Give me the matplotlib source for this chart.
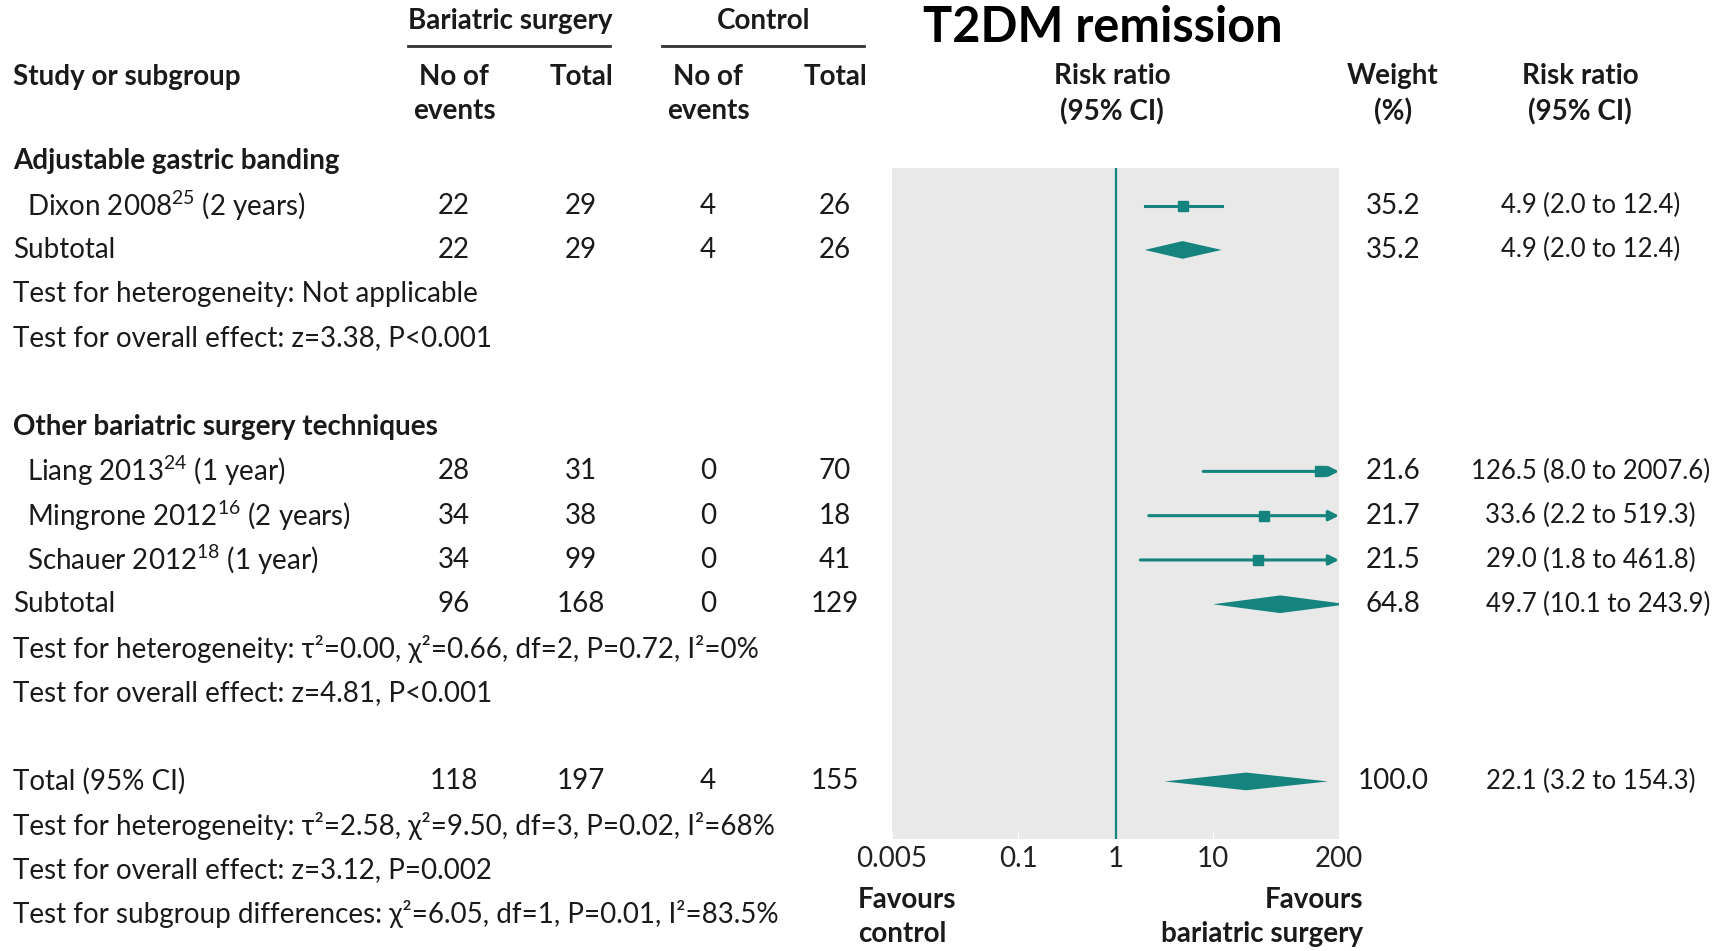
import numpy as np
import matplotlib
matplotlib.use('Agg')
import matplotlib.pyplot as plt
from matplotlib import transforms

plt.rcParams['font.family'] = ['Lato', 'DejaVu Sans']
plt.rcParams['mathtext.fontset'] = 'custom'
plt.rcParams['mathtext.rm'] = 'Lato'
plt.rcParams['mathtext.it'] = 'Lato:italic'
plt.rcParams['mathtext.bf'] = 'Lato:bold'

# rows of the table (top to bottom)
row_labels = ["Adjustable gastric banding",
              "Dixon 2008$^{25}$ (2 years)",
              "Subtotal",
              "Test for heterogeneity: Not applicable",
              "Test for overall effect: z=3.38, P<0.001",
              "",
              "Other bariatric surgery techniques",
              "Liang 2013$^{24}$ (1 year)",
              "Mingrone 2012$^{16}$ (2 years)",
              "Schauer 2012$^{18}$ (1 year)",
              "Subtotal",
              "Test for heterogeneity: τ²=0.00, χ²=0.66, df=2, P=0.72, I²=0%",
              "Test for overall effect: z=4.81, P<0.001",
              "",
              "Total (95% CI)",
              "Test for heterogeneity: τ²=2.58, χ²=9.50, df=3, P=0.02, I²=68%",
              "Test for overall effect: z=3.12, P=0.002",
              "Test for subgroup differences: χ²=6.05, df=1, P=0.01, I²=83.5%"]
bold_rows = [0, 6]
indent_rows = [1, 7, 8, 9]

# rows carrying numbers
data_rows = [1, 2, 7, 8, 9, 10, 14]
kind = ['study', 'pooled', 'study', 'study', 'study', 'pooled', 'pooled']
ev_bs = [22, 22, 28, 34, 34, 96, 118]
tot_bs = [29, 29, 31, 38, 99, 168, 197]
ev_ct = [4, 4, 0, 0, 0, 0, 4]
tot_ct = [26, 26, 70, 18, 41, 129, 155]
weight = [35.2, 35.2, 21.6, 21.7, 21.5, 64.8, 100.0]
rr = [4.9, 4.9, 126.5, 33.6, 29.0, 49.7, 22.1]
lo = [2.0, 2.0, 8.0, 2.2, 1.8, 10.1, 3.2]
hi = [12.4, 12.4, 2007.6, 519.3, 461.8, 243.9, 154.3]

xticks = [0.005, 0.1, 1, 10, 200]
xticklabels = ['0.005', '0.1', '1', '10', '200']

teal = '#15847e'
W, H = 1719, 951
fs = 20

fig = plt.figure(figsize=(W / 100, H / 100), dpi=100)
ax = fig.add_axes([892 / W, 1 - 839 / H, (1339 - 892) / W, (839 - 168) / H])
ax.set_facecolor('#e9e9e9')
ax.set_xscale('log')
ax.set_xlim(0.005, 200)
ax.set_ylim(15.3, 0.15)
for s in ax.spines.values():
    s.set_visible(False)
ax.set_yticks([])
ax.set_xticks(xticks)
ax.set_xticklabels(xticklabels)
ax.minorticks_off()
ax.tick_params(axis='x', direction='in', length=6, color='white', labelsize=fs, pad=5, labelcolor='#222222')

ax.axvline(1, color=teal, lw=1.6)

for i, r in enumerate(data_rows):
    if kind[i] == 'study':
        if hi[i] > 200:
            ax.annotate('', xy=(200, r), xytext=(lo[i], r),
                        arrowprops=dict(arrowstyle='-|>', color=teal, lw=2.2, mutation_scale=15,
                                        shrinkA=0, shrinkB=0))
        else:
            ax.plot([lo[i], hi[i]], [r, r], color=teal, lw=2.2)
        ax.plot(rr[i], r, marker='s', ms=7, color=teal)
    else:
        ax.fill([lo[i], rr[i], hi[i], rr[i]], [r, r - 0.2, r, r + 0.2], color=teal, lw=0)

# text columns, x in figure pixels, y in row units
tr = transforms.blended_transform_factory(fig.transFigure, ax.transData)
tc = '#1a1a1a'
for r, lab in enumerate(row_labels):
    if not lab:
        continue
    x = 27 if r in indent_rows else 13
    ax.text(x / W, r, lab, transform=tr, ha='left', va='center', fontsize=fs, color=tc,
            fontweight='bold' if r in bold_rows else 'normal', clip_on=False)

for i, r in enumerate(data_rows):
    for xc, v in zip([454, 581, 708, 835], [ev_bs[i], tot_bs[i], ev_ct[i], tot_ct[i]]):
        ax.text(xc / W, r, str(v), transform=tr, ha='center', va='center', fontsize=fs, color=tc)
    ax.text(1393 / W, r, f'{weight[i]:.1f}', transform=tr, ha='center', va='center', fontsize=fs, color=tc)
    ax.text(1543 / W, r, f'{rr[i]:.1f} ', transform=tr, ha='right', va='center', fontsize=18.5, color=tc)
    ax.text(1543 / W, r, f'({lo[i]:.1f} to {hi[i]:.1f})', transform=tr, ha='left', va='center',
            fontsize=18.5, color=tc)

# headers
def ftext(x, y, s, **kw):
    fig.text(x / W, 1 - y / H, s, fontsize=fs, color=tc, fontweight='bold', va='center', **kw)

ftext(510, 21, 'Bariatric surgery', ha='center')
ftext(764, 21, 'Control', ha='center')
fig.add_artist(plt.Line2D([408 / W, 610 / W], [1 - 46 / H] * 2, color='#333333', lw=2))
fig.add_artist(plt.Line2D([662 / W, 864 / W], [1 - 46 / H] * 2, color='#333333', lw=2))
ftext(13, 77, 'Study or subgroup', ha='left')
ftext(454, 94, 'No of\nevents', ha='center', linespacing=1.4)
ftext(581, 77, 'Total', ha='center')
ftext(708, 94, 'No of\nevents', ha='center', linespacing=1.4)
ftext(835, 77, 'Total', ha='center')
ftext(1112, 94, 'Risk ratio\n(95% CI)', ha='center', linespacing=1.4)
ftext(1393, 94, 'Weight\n(%)', ha='center', linespacing=1.4)
ftext(1580, 94, 'Risk ratio\n(95% CI)', ha='center', linespacing=1.4)
ftext(858, 917, 'Favours\ncontrol', ha='left', linespacing=1.4)
ftext(1363, 917, 'Favours\nbariatric surgery', ha='right', linespacing=1.4, multialignment='right')

fig.text(1103 / W, 1 - 27 / H, 'T2DM remission', fontsize=35, fontweight='bold', color='black',
         ha='center', va='center')

fig.savefig('out.png', dpi=100, facecolor='white')
